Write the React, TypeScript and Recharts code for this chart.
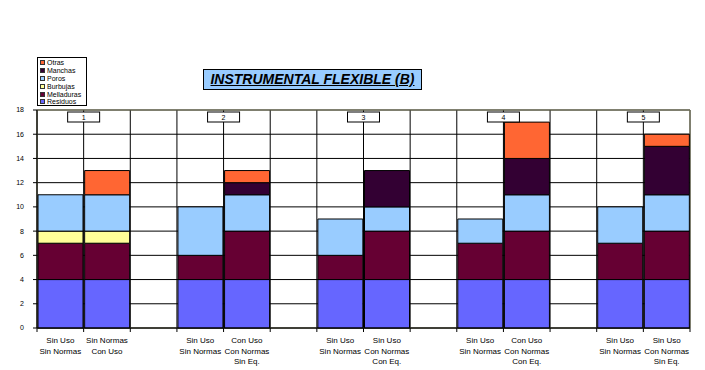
import React from 'react';
import { BarChart, Bar, XAxis, YAxis, CartesianGrid, ReferenceDot, ReferenceArea } from 'recharts';

const categories = ['g1a', 'g1b', 's1', 'g2a', 'g2b', 's2', 'g3a', 'g3b', 's3', 'g4a', 'g4b', 's4', 'g5a', 'g5b'];
const tickLabels: string[][] = [
  ['Sin Uso', 'Sin Normas'], ['Sin Normas', 'Con Uso'], [],
  ['Sin Uso', 'Sin Normas'], ['Con Uso', 'Con Normas', 'Sin Eq.'], [],
  ['Sin Uso', 'Sin Normas'], ['Sin Uso', 'Con Normas', 'Con Eq.'], [],
  ['Sin Uso', 'Sin Normas'], ['Con Uso', 'Con Normas', 'Con Eq.'], [],
  ['Sin Uso', 'Sin Normas'], ['Sin Uso', 'Con Normas', 'Sin Eq.'],
];

const residuos = [4, 4, 0, 4, 4, 0, 4, 4, 0, 4, 4, 0, 4, 4];
const melladuras = [3, 3, 0, 2, 4, 0, 2, 4, 0, 3, 4, 0, 3, 4];
const burbujas = [1, 1, 0, 0, 0, 0, 0, 0, 0, 0, 0, 0, 0, 0];
const poros = [3, 3, 0, 4, 3, 0, 3, 2, 0, 2, 3, 0, 3, 3];
const manchas = [0, 0, 0, 0, 1, 0, 0, 3, 0, 0, 3, 0, 0, 4];
const otras = [0, 2, 0, 0, 1, 0, 0, 0, 0, 0, 3, 0, 0, 1];

const groupLabels = ['1', '2', '3', '4', '5'];
const groupAnchors = ['g1b', 'g2b', 'g3b', 'g4b', 'g5b'];
const yTicks = [0, 2, 4, 6, 8, 10, 12, 14, 16, 18];

const series = [
  { key: 'residuos', name: 'Residuos', color: '#6666FF' },
  { key: 'melladuras', name: 'Melladuras', color: '#660033' },
  { key: 'burbujas', name: 'Burbujas', color: '#FFFF99' },
  { key: 'poros', name: 'Poros', color: '#99CCFF' },
  { key: 'manchas', name: 'Manchas', color: '#330033' },
  { key: 'otras', name: 'Otras', color: '#FF6633' },
];

const data = categories.map((cat, i) => ({
  cat,
  residuos: residuos[i],
  melladuras: melladuras[i],
  burbujas: burbujas[i],
  poros: poros[i],
  manchas: manchas[i],
  otras: otras[i],
}));

const W = 705;
const H = 370;
const Y_W = 37;
const M = { top: 110, right: 15, bottom: 0, left: 0 };
const PLOT_W = W - Y_W - M.right;
const BAND = PLOT_W / categories.length;
const FONT = 'Arial, "Liberation Sans", sans-serif';

const XTick = (props: any) => {
  const { x, y, payload, index } = props;
  const lines = tickLabels[categories.indexOf(payload.value)] || [];
  const last = index === categories.length - 1;
  return (
    <g>
      <line x1={x - BAND / 2} y1={y} x2={x - BAND / 2} y2={y + 4} stroke="#000" />
      {last && <line x1={x + BAND / 2} y1={y} x2={x + BAND / 2} y2={y + 4} stroke="#000" />}
      {lines.map((t, i) => (
        <text key={i} x={x} y={y + 15 + i * 10.5} textAnchor="middle" fontSize={8} fontFamily={FONT} fill="#000">
          {t}
        </text>
      ))}
    </g>
  );
};

const GroupBox = (label: string) => (props: any) => {
  const { cx, cy } = props;
  const bx = cx - BAND / 2;
  return (
    <g>
      <rect x={bx - 16} y={cy + 2} width={32} height={10} fill="#fff" stroke="#000" />
      <text x={bx} y={cy + 10} textAnchor="middle" fontSize={7} fontFamily={FONT} fill="#000">
        {label}
      </text>
    </g>
  );
};

const LegendBox = () => (
  <div
    style={{
      position: 'absolute', left: 37, top: 57, width: 50, height: 49, boxSizing: 'border-box',
      border: '1px solid #000', background: '#fff', padding: '1px 0 0 2px', zIndex: 2,
    }}
  >
    {[...series].reverse().map((s) => (
      <div key={s.key} style={{ display: 'flex', alignItems: 'center', height: 7.8, fontSize: 7, fontFamily: FONT, lineHeight: '7px' }}>
        <span style={{ width: 5, height: 5, background: s.color, border: '1px solid #333', marginRight: 2, boxSizing: 'border-box' }} />
        {s.name}
      </div>
    ))}
  </div>
);

const App = () => {
  return (
    <div style={{ position: 'absolute', left: 0, top: 0, width: W, height: H, background: '#fff' }}>
      <div
        style={{
          position: 'absolute', left: 203, top: 69, width: 219, height: 21, boxSizing: 'border-box',
          background: '#99CCFF', border: '1px solid #000', fontFamily: FONT, fontSize: 14,
          fontWeight: 'bold', fontStyle: 'italic', textDecoration: 'underline', textAlign: 'center',
          lineHeight: '19px', zIndex: 2,
        }}
      >
        INSTRUMENTAL FLEXIBLE (B)
      </div>
      <LegendBox />
      <BarChart width={W} height={H} data={data} margin={M} barCategoryGap={1}>
        <CartesianGrid
          stroke="#000"
          verticalPoints={categories.map((_, i) => Y_W + i * BAND).concat([Y_W + PLOT_W])}
        />
        <ReferenceArea y1={0} y2={18} fill="none" stroke="#808060" ifOverflow="visible" />
        <XAxis
          dataKey="cat"
          height={42}
          interval={0}
          tickLine={false}
          tickSize={0}
          tickMargin={0}
          tick={<XTick />}
          stroke="#000"
        />
        <YAxis
          width={Y_W}
          domain={[0, 18]}
          ticks={yTicks}
          interval={0}
          tickSize={4}
          tickMargin={9}
          stroke="#000"
          tick={{ fontSize: 7, fontFamily: FONT, fill: '#000' }}
        />
        {series.map((s) => (
          <Bar
            key={s.key}
            dataKey={s.key}
            name={s.name}
            stackId="a"
            fill={s.color}
            stroke="#000"
            strokeWidth={1}
            isAnimationActive={false}
          />
        ))}
        {groupAnchors.map((a, i) => (
          <ReferenceDot key={a} x={a} y={18} r={0} ifOverflow="visible" shape={GroupBox(groupLabels[i])} />
        ))}
      </BarChart>
    </div>
  );
};

export default App;
